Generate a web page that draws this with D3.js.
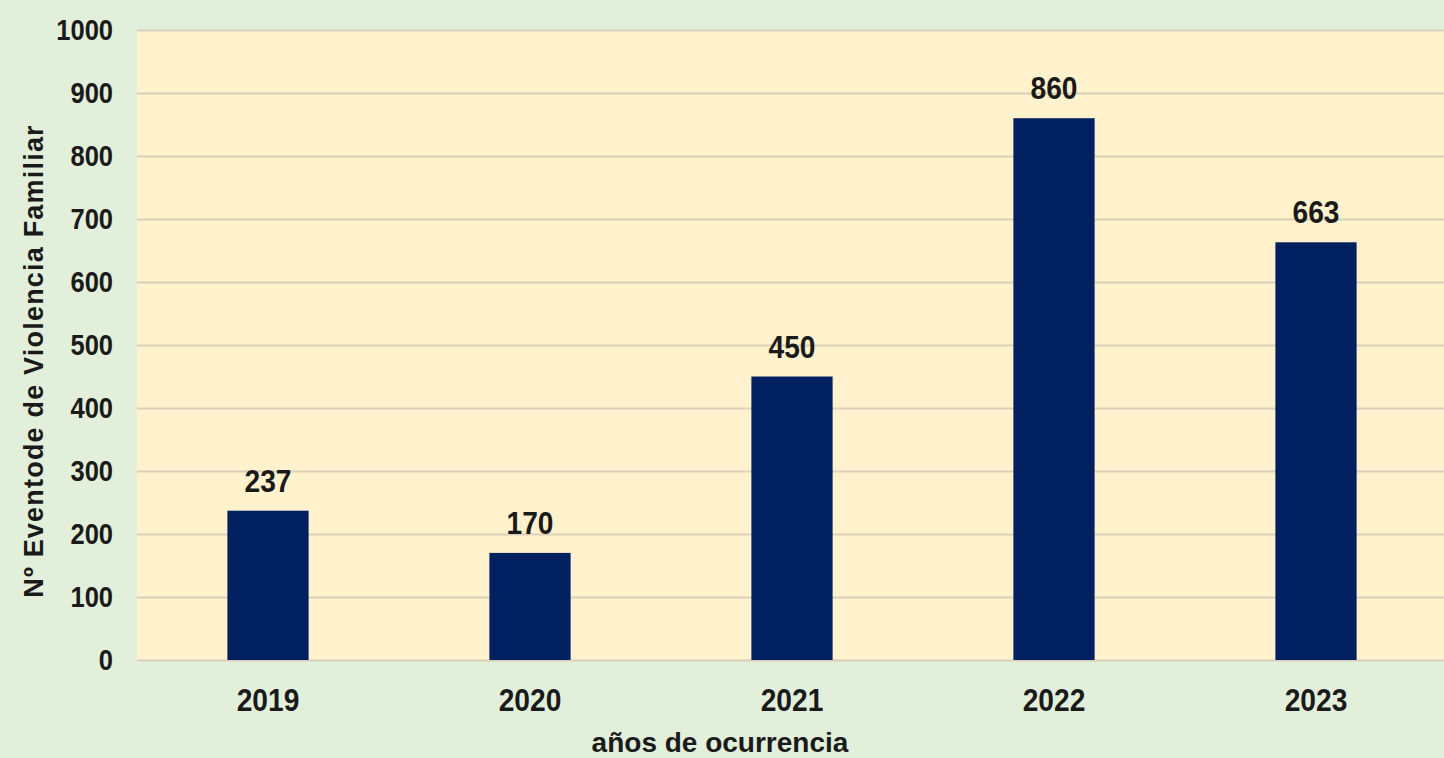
<!DOCTYPE html>
<html>
<head>
<meta charset="utf-8">
<script src="https://cdn.jsdelivr.net/npm/d3@7"></script>
<style>
  html, body { margin: 0; padding: 0; background: #e2efda; }
  svg { display: block; }
  text { font-family: "Liberation Sans", Arial, sans-serif; font-weight: bold; fill: #1a1a1a; }
</style>
</head>
<body>
<div id="chart"></div>
<script>
const categories = ["2019", "2020", "2021", "2022", "2023"];
const values = [237, 170, 450, 860, 663];
const yTicks = [0, 100, 200, 300, 400, 500, 600, 700, 800, 900, 1000];
const yTitle = "Nº Eventode de Violencia  Familiar";
const xTitle = "años de ocurrencia";

const W = 1444, H = 758;
const margin = { left: 137, right: -3, top: 30, bottom: 98 };
const plotW = W - margin.left - margin.right;
const plotH = H - margin.top - margin.bottom;
const SX = 0.88; // horizontal condensing of numeric labels

const svg = d3.select("#chart").append("svg").attr("width", W).attr("height", H);
svg.append("rect").attr("width", W).attr("height", H).attr("fill", "#e2efda");

const g = svg.append("g").attr("transform", `translate(${margin.left},${margin.top})`);
g.append("rect").attr("width", plotW).attr("height", plotH).attr("fill", "#fff2cc");

const x = d3.scaleBand().domain(categories).range([0, plotW]).paddingInner(0.69).paddingOuter(0.345);
const y = d3.scaleLinear().domain([0, 1000]).range([plotH, 0]);

// gridlines + y tick labels
const yAxis = d3.axisLeft(y).tickValues(yTicks).tickFormat(d3.format("d")).tickSize(-plotW).tickPadding(24);
const ya = g.append("g").call(yAxis);
ya.select(".domain").remove();
ya.selectAll(".tick line").attr("stroke", "#d9d0b9").attr("stroke-width", 2);
ya.selectAll(".tick text")
  .attr("font-size", 29)
  .attr("x", -24 / SX)
  .attr("transform", `scale(${SX},1)`)
  .style("fill", "#1a1a1a");

// bars
g.selectAll(".bar").data(values).enter().append("rect")
  .attr("class", "bar")
  .attr("x", (d, i) => x(categories[i]))
  .attr("width", x.bandwidth())
  .attr("y", d => y(d))
  .attr("height", d => plotH - y(d))
  .attr("fill", "#002060");

// value labels
g.selectAll(".lbl").data(values).enter().append("text")
  .attr("class", "lbl")
  .attr("transform", (d, i) => `translate(${x(categories[i]) + x.bandwidth() / 2},${y(d) - 19}) scale(${SX},1)`)
  .attr("text-anchor", "middle")
  .attr("font-size", 32)
  .text(d => d);

// x axis
const xa = g.append("g").attr("transform", `translate(0,${plotH})`)
  .call(d3.axisBottom(x).tickSize(0).tickPadding(28));
xa.select(".domain").remove();
xa.selectAll(".tick text")
  .attr("font-size", 32)
  .attr("transform", `scale(${SX},1)`)
  .style("fill", "#1a1a1a");

// axis titles
svg.append("text")
  .attr("x", 720).attr("y", 752)
  .attr("text-anchor", "middle")
  .attr("font-size", 28)
  .text(xTitle);

svg.append("text")
  .attr("transform", `translate(43,361) rotate(-90)`)
  .attr("text-anchor", "middle")
  .attr("font-size", 27)
  .attr("letter-spacing", 1.2)
  .text(yTitle);
</script>
</body>
</html>
